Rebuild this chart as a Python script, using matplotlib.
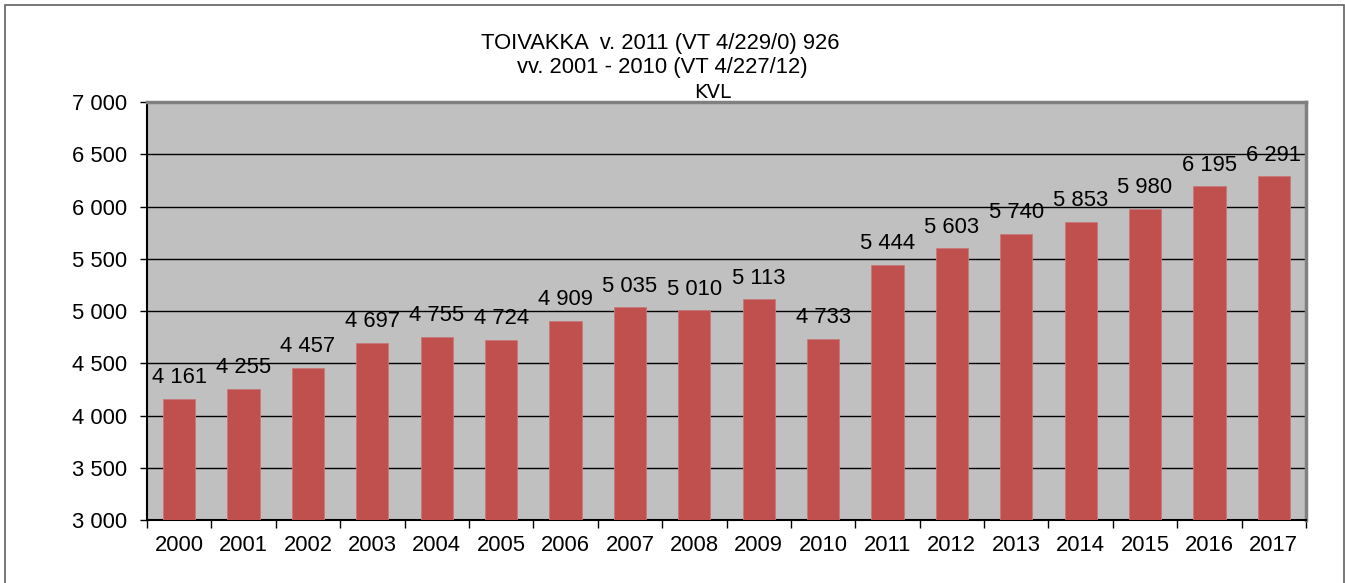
import matplotlib
matplotlib.use("Agg")
import matplotlib.pyplot as plt
from matplotlib.patches import Rectangle

years = ["2000", "2001", "2002", "2003", "2004", "2005", "2006", "2007", "2008",
         "2009", "2010", "2011", "2012", "2013", "2014", "2015", "2016", "2017"]
kvl = [4161, 4255, 4457, 4697, 4755, 4724, 4909, 5035, 5010,
       5113, 4733, 5444, 5603, 5740, 5853, 5980, 6195, 6291]
yticks = [3000, 3500, 4000, 4500, 5000, 5500, 6000, 6500, 7000]

def fmt(v):
    return f"{v:,}".replace(",", " ")

plt.rcParams['font.family'] = ['Liberation Sans', 'DejaVu Sans']
FS = 15.8

fig = plt.figure(figsize=(13.45, 5.83), dpi=100)
ax = fig.add_axes([147/1345, 1-520/583, (1306-147)/1345, (520-102)/583])
ax.set_facecolor('#C0C0C0')

x = list(range(len(years)))
ax.bar(x, [v - 3000 for v in kvl], bottom=3000, width=0.5, color='#C0504D',
       edgecolor='#C8787A', linewidth=0.6, zorder=3)
for xi, v in zip(x, kvl):
    ax.annotate(fmt(v), (xi, v), xytext=(0, 7.5), textcoords='offset points',
                ha='center', va='bottom', fontsize=FS, zorder=4)

ax.set_xlim(-0.5, len(years) - 0.5)
ax.set_ylim(3000, 7000)
ax.set_yticks(yticks)
ax.set_yticklabels([fmt(t) for t in yticks], fontsize=FS)
ax.yaxis.grid(True, color='black', linewidth=1, zorder=1)
ax.set_axisbelow(True)

ax.set_xticks([i - 0.5 for i in range(len(years) + 1)], minor=False)
ax.set_xticklabels([])
ax.set_xticks(x, minor=True)
ax.set_xticklabels(years, minor=True, fontsize=FS)
ax.tick_params(axis='x', which='major', direction='out', length=6, width=1, color='black')
ax.tick_params(axis='x', which='minor', length=0, pad=11)
ax.tick_params(axis='y', direction='out', length=5, width=1, pad=9)

ax.spines['left'].set_color('black')
ax.spines['left'].set_linewidth(1.5)
ax.spines['bottom'].set_color('black')
ax.spines['bottom'].set_linewidth(1.5)
ax.spines['top'].set_color('#808080')
ax.spines['top'].set_linewidth(2.5)
ax.spines['right'].set_color('#808080')
ax.spines['right'].set_linewidth(2.5)

fig.text(660/1345, 1-44/583, "TOIVAKKA  v. 2011 (VT 4/229/0) 926", ha='center', va='center', fontsize=FS)
fig.text(662/1345, 1-67/583, "vv. 2001 - 2010 (VT 4/227/12)", ha='center', va='center', fontsize=FS)
fig.text(713/1345, 1-92/583, "KVL", ha='center', va='center', fontsize=14,
         family=['DejaVu Sans'])

fig.patches.append(Rectangle((5/1345, -0.05), (1344-5)/1345, 1.05 - 5/583,
                             transform=fig.transFigure, fill=False,
                             edgecolor='#606060', linewidth=1.2))

fig.savefig("out.png", dpi=100)
